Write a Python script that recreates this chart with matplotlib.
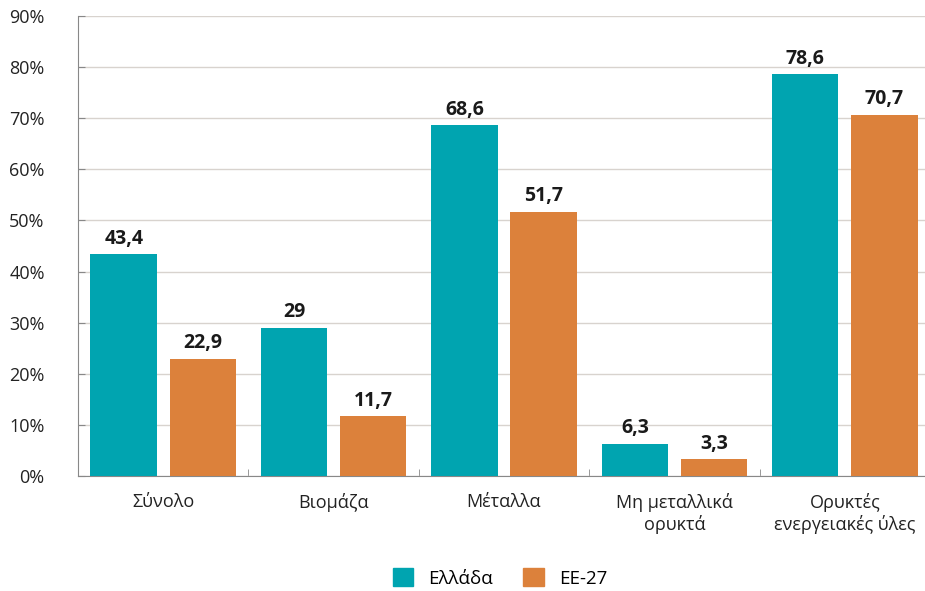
import matplotlib
matplotlib.use("Agg")
import matplotlib.pyplot as plt
import numpy as np
from matplotlib.patches import Patch

categories = ["Σύνολο", "Βιομάζα", "Μέταλλα", "Μη μεταλλικά\nορυκτά", "Ορυκτές\nενεργειακές ύλες"]
greece = [43.4, 29, 68.6, 6.3, 78.6]
eu27 = [22.9, 11.7, 51.7, 3.3, 70.7]
series_names = ["Ελλάδα", "ΕΕ-27"]
yticks = [0, 10, 20, 30, 40, 50, 60, 70, 80, 90]

plt.rcParams['font.family'] = ['Open Sans', 'Noto Sans', 'DejaVu Sans']
teal = "#00A4B0"
orange = "#DC813B"

fig = plt.figure(figsize=(9.25, 5.91), dpi=100)
ax = fig.add_axes([78/925, 115/591, 852/925, 460/591])

x = np.arange(len(categories))
w = 0.39
off = 0.232
b1 = ax.bar(x - off, greece, w, color=teal, zorder=3)
b2 = ax.bar(x + off, eu27, w, color=orange, zorder=3)

def fmt(v):
    return ("%g" % v).replace(".", ",")

for bars, vals in ((b1, greece), (b2, eu27)):
    for r, v in zip(bars, vals):
        ax.annotate(fmt(v), (r.get_x() + r.get_width()/2, v), xytext=(0, 4),
                    textcoords="offset points", ha="center", va="bottom",
                    fontsize=14, fontweight="bold", color="#1a1a1a")

ax.set_xlim(-0.5, len(categories) - 0.5)
ax.set_ylim(0, 90)
ax.set_yticks(yticks)
ax.set_yticklabels([f"{t}%" for t in yticks], fontsize=13, color="#222222")
ax.yaxis.grid(True, color="#d8d3ce", linewidth=1, zorder=0)
ax.tick_params(axis="y", length=5, direction="in", color="#888888", pad=24)

ax.set_xticks(x)
ax.set_xticklabels(categories, fontsize=13, color="#222222", linespacing=1.25)
ax.tick_params(axis="x", length=0, pad=12)
ax.set_xticks(np.arange(-0.5, len(categories) + 0.5, 1), minor=True)
ax.tick_params(axis="x", which="minor", length=5, direction="in", color="#888888")

for s in ["top", "right"]:
    ax.spines[s].set_visible(False)
ax.spines["left"].set_color("#888888")
ax.spines["bottom"].set_color("#888888")

handles = [Patch(color=teal), Patch(color=orange)]
fig.legend(handles, series_names, loc="center", bbox_to_anchor=(500/925, 1 - 578/591),
           ncol=2, frameon=False, fontsize=13.5, handlelength=1.1, handleheight=1.1,
           columnspacing=1.6, handletextpad=0.8)

fig.savefig("out.png", dpi=100)
